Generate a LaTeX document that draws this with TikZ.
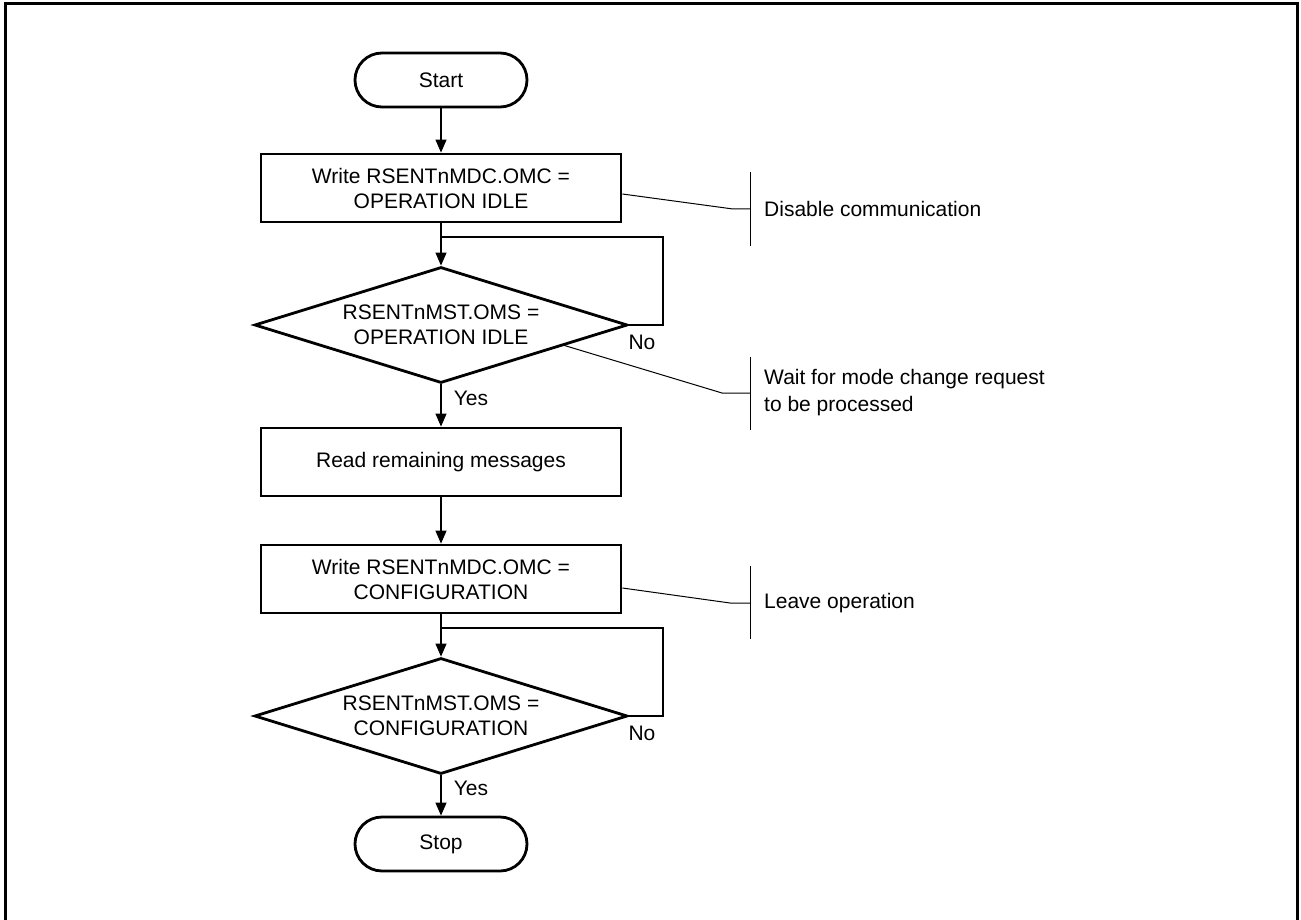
\documentclass[tikz,border=0pt]{standalone}
\usepackage{fontspec}
\setmainfont{Liberation Sans}
\usetikzlibrary{shapes.geometric,arrows.meta,calc}
\tikzset{
  base/.style={draw=black, line width=2.8pt, inner sep=0pt, font=\fontsize{21}{25}\selectfont, align=center},
  term/.style={base, rectangle, rounded corners=27pt, minimum width=172pt, minimum height=54pt},
  proc/.style={base, rectangle, minimum width=360pt, minimum height=68pt},
  dec/.style={base, diamond, minimum width=373pt, minimum height=116pt},
  conn/.style={line width=1.2pt, -{Triangle[length=13pt,width=11pt]}},
  plain/.style={line width=1.2pt},
  note/.style={line width=1pt},
  lbl/.style={inner sep=0pt, font=\fontsize{21}{25}\selectfont},
  txt/.style={inner sep=0pt, font=\fontsize{21}{27}\selectfont, align=left, anchor=west},
}
\begin{document}
\begin{tikzpicture}[x=1pt,y=-1pt]
\useasboundingbox (0,0) rectangle (1301,920);
\draw[line width=3pt] (5,925) -- (5,4) -- (1297,4) -- (1297,925);

\node[term] (start) at (441,80) {Start};
\node[proc] (box1) at (441,188) {Write RSENTnMDC.OMC =\\OPERATION IDLE};
\node[dec] (d1) at (441,325) {};
\node[lbl, align=center] (t1) at (d1) {RSENTnMST.OMS =\\OPERATION IDLE};
\node[proc] (box2) at (441,462) {Read remaining messages};
\node[proc] (box3) at (441,579) {Write RSENTnMDC.OMC =\\CONFIGURATION};
\node[dec] (d2) at (441,716) {};
\node[lbl, align=center] (t2) at (d2) {RSENTnMST.OMS =\\CONFIGURATION};
\node[term] (stop) at (441,844) {Stop};

% main flow
\draw[conn] (start) -- (box1);
\coordinate (j1) at (441,237);
\draw[conn] (box1) -- (d1.north);
\draw[plain] (d1.east) -- ++(34,0) |- (j1);
\node[lbl] (no1) at (642,342) {No};
\draw[conn] (d1.south) -- (box2);
\node[lbl] (yes1) at (471,398) {Yes};
\draw[conn] (box2) -- (box3);
\coordinate (j2) at (441,628);
\draw[conn] (box3) -- (d2.north);
\draw[plain] (d2.east) -- ++(34,0) |- (j2);
\node[lbl] (no2) at (642,733) {No};
\draw[conn] (d2.south) -- (stop);
\node[lbl] (yes2) at (471,788) {Yes};

% annotations
\coordinate (b1t) at (750,172);
\coordinate (b1b) at (750,246);
\coordinate (b1m) at (750,209);
\draw[note] (b1t) -- (b1b);
\draw[note] ($(box1.east)+(0,6)$) -- (733,209) -- (b1m);
\node[txt] (n1) at (764,209) {Disable communication};

\coordinate (b2t) at (750,357);
\coordinate (b2b) at (750,430);
\coordinate (b2m) at (750,393);
\draw[note] (b2t) -- (b2b);
\draw[note] ($(d1.east)!0.344!(d1.south)$) -- (722,393) -- (b2m);
\node[txt] (n2) at (764,393) {Wait for mode change request\\to be processed};

\coordinate (b3t) at (750,566);
\coordinate (b3b) at (750,639);
\coordinate (b3m) at (750,603);
\draw[note] (b3t) -- (b3b);
\draw[note] ($(box3.east)+(0,9)$) -- (730,603) -- (b3m);
\node[txt] (n3) at (764,603) {Leave operation};
\end{tikzpicture}
\end{document}
